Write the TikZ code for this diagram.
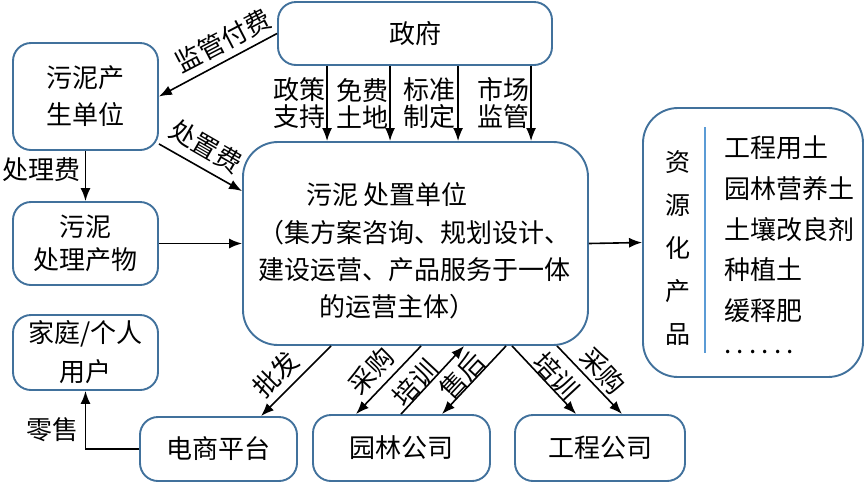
\documentclass[tikz,border=0pt]{standalone}
\usepackage{fontspec}
\setmainfont{Noto Sans CJK SC}
\usetikzlibrary{arrows.meta,calc}
\definecolor{boxc}{RGB}{65,113,156}
\definecolor{linec}{RGB}{91,155,213}
\newcommand\myfs{\fontsize{26}{36}\selectfont}
\begin{document}
\begin{tikzpicture}[x=1pt,y=-1pt,
  box/.style={draw=boxc, line width=1.9pt, rounded corners=18pt, inner sep=0pt, align=center, font=\myfs},
  bigbox/.style={box, rounded corners=35pt},
  arr/.style={-{Latex[length=13pt,width=10pt]}, line width=1.6pt},
  lbl/.style={font=\myfs, inner sep=0pt, align=center}]
\useasboundingbox (0,0) rectangle (865,483);

% boxes
\node[box, minimum width=274pt, minimum height=63pt] (gov) at (415,33.5) {政府};
\node[box, minimum width=145pt, minimum height=107pt, font=\fontsize{26}{37}\selectfont] (src) at (85.5,96.5) {污泥产\\生单位};
\node[box, minimum width=145pt, minimum height=83pt, font=\fontsize{26}{33}\selectfont] (prod) at (85.5,243.5) {污泥\\处理产物};
\node[bigbox, minimum width=345pt, minimum height=203pt] (center) at (415.5,243.5) {};
\node[lbl, font=\fontsize{26}{37.3}\selectfont] (ctxt) at (414,251) {污泥 处置单位\hspace*{54pt}\\（集方案咨询、规划设计、\\建设运营、产品服务于一体\\的运营主体）\hspace*{34pt}};
\node[bigbox, minimum width=220pt, minimum height=269pt] (res) at (753,242.5) {};
\node[box, minimum width=145pt, minimum height=75pt, font=\fontsize{26}{39}\selectfont] (home) at (85.5,352.5) {家庭/个人\\用户};
\node[box, minimum width=157pt, minimum height=64pt] (ec) at (218.5,449) {电商平台};
\node[box, minimum width=177pt, minimum height=66pt] (yl) at (401.5,448) {园林公司};
\node[box, minimum width=170pt, minimum height=66pt] (gc) at (600,448) {工程公司};

% resource box content
\node[lbl, font=\fontsize{25}{43}\selectfont] (resv) at (678,248) {资\\源\\化\\产\\品};
\draw[linec, line width=1.5pt] ($(res.north west)+(63,20)$) -- ($(res.south west)+(63,-25)$);
\node[lbl, align=left, anchor=west, font=\fontsize{26}{40.6}\selectfont] (resl) at (724,248.5) {工程用土\\园林营养土\\土壤改良剂\\种植土\\缓释肥\\\raisebox{7pt}{\hbox to 70pt{.\hfil.\hfil.\hfil.\hfil.\hfil.}}};

% government arrows
\draw[arr] (gov.west) -- (src.east);
\node[lbl, rotate=27.5] (l1) at (223,41) {监管付费};
\foreach \a/\b in {50/85,113/148,181/216,254/289}
  \draw[arr] ($(gov.south west)+(\a,0)$) -- ($(center.north west)+(\b,0)$);
\node[lbl, font=\fontsize{26}{27}\selectfont] (l2) at (299,103.5) {政策\\支持};
\node[lbl, font=\fontsize{26}{27}\selectfont] (l3) at (362,103.5) {免费\\土地};
\node[lbl, font=\fontsize{26}{27}\selectfont] (l4) at (429,103.5) {标准\\制定};
\node[lbl, font=\fontsize{26}{27}\selectfont] (l5) at (503,103.5) {市场\\监管};

% left side
\draw[arr] (src.south) -- (prod.north);
\node[lbl] (l6) at (41,170) {处理费};
\draw[arr] ($(src.south east)+(0,-7)$) -- ($(center.north west)+(0,50)$);
\node[lbl, rotate=-30] (l7) at (206,146) {处置费};
\draw[arr] (prod.east) -- (center.west);
\draw[arr] (center.east) -- (res.west);

% bottom
\draw[arr] (ec.west) -| (home.south);
\node[lbl] (l8) at (52,430) {零售};
\draw[arr] ($(center.south west)+(89,0)$) -- ($(ec.north west)+(122,0)$);
\node[lbl, rotate=45] (l9) at (276,374) {批发};
\draw[arr] ($(center.south west)+(179,0)$) -- ($(yl.north west)+(44,0)$);
\node[lbl, rotate=47] (l10) at (371,371) {采购};
\draw[arr] ($(yl.north west)+(89,0)$) -- ($(center.south west)+(222,0)$);
\node[lbl, rotate=47] (l11) at (415,383) {培训};
\draw[arr] ($(center.south west)+(264,0)$) -- ($(yl.north west)+(130,0)$);
\node[lbl, rotate=47] (l12) at (462,376) {售后};
\draw[arr] ($(center.south west)+(270,0)$) -- ($(gc.north west)+(62,0)$);
\node[lbl, rotate=-47] (l13) at (557,376) {培训};
\draw[arr] ($(center.south west)+(315,0)$) -- ($(gc.north west)+(108,0)$);
\node[lbl, rotate=-47] (l14) at (603,371) {采购};
\end{tikzpicture}
\end{document}
